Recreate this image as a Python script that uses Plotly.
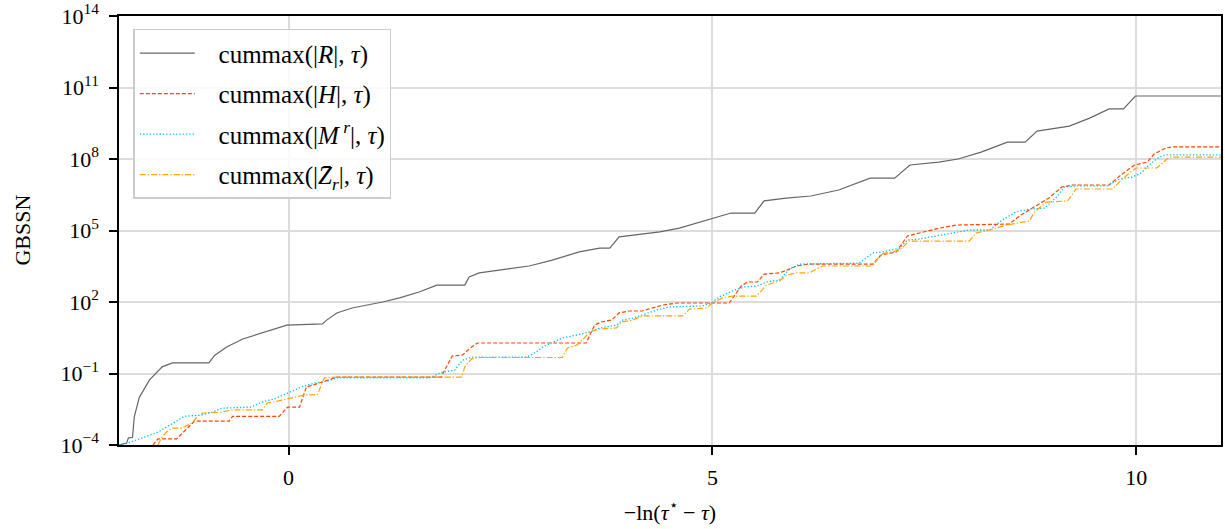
import plotly.graph_objects as go

# ---- data ----
x_R = [-2.0, -1.91, -1.89, -1.84, -1.82, -1.76, -1.64, -1.49, -1.37, -0.94, -0.87, -0.73, -0.54, -0.31, -0.02,
       0.40, 0.45, 0.57, 0.75, 1.11, 1.31, 1.54, 1.75, 2.08, 2.13, 2.25, 2.57, 2.84, 3.11, 3.43, 3.67, 3.79,
       3.90, 4.14, 4.38, 4.61, 5.01, 5.22, 5.50, 5.61, 5.87, 6.16, 6.49, 6.86, 7.15, 7.33, 7.67, 7.90, 8.17,
       8.48, 8.69, 8.83, 9.21, 9.45, 9.68, 9.85, 9.99, 11.0]
y_R = [1.0e-4, 1.2e-4, 1.95e-4, 2.1e-4, 1.5e-3, 1.0e-2, 5.4e-2, 0.19, 0.28, 0.28, 0.59, 1.29, 2.8, 5.0, 10.7,
       12, 17.4, 34.7, 56, 100, 148, 263, 513, 513, 1120, 1660, 2400, 3240, 5750, 1.26e4, 1.82e4, 1.82e4,
       5.4e4, 7.1e4, 8.7e4, 1.26e5, 3.3e5, 5.4e5, 5.4e5, 1.74e6, 2.3e6, 2.8e6, 5.0e6, 1.58e7, 1.58e7, 5.6e7,
       7.4e7, 1.0e8, 1.95e8, 5.1e8, 5.1e8, 1.48e9, 2.4e9, 5.2e9, 1.26e10, 1.26e10, 4.4e10, 4.4e10]

x_H = [-1.60, -1.54, -1.32, -1.11, -0.70, -0.66, -0.11, -0.01, 0.13, 0.21, 0.40, 0.57, 1.80, 1.86, 1.93, 2.05,
       2.16, 2.23, 3.51, 3.61, 3.69, 3.81, 3.90, 4.02, 4.17, 4.41, 4.58, 5.20, 5.34, 5.41, 5.53, 5.61, 5.79,
       5.88, 5.99, 6.14, 6.89, 6.99, 7.17, 7.30, 7.44, 7.68, 7.88, 8.50, 8.64, 8.83, 8.97, 9.12, 9.25, 9.68,
       9.83, 9.98, 10.13, 10.21, 10.35, 10.42, 11.0]
y_H = [1.0e-4, 1.8e-4, 1.8e-4, 1.0e-3, 1.0e-3, 1.6e-3, 1.6e-3, 3.9e-3, 3.9e-3, 2.7e-2, 4.4e-2, 7.1e-2, 7.1e-2,
       0.19, 0.54, 0.59, 1.3, 1.9, 1.9, 10.7, 14.5, 17.4, 35, 42, 42, 74, 91, 91, 470, 690, 690, 1480, 1660,
       2190, 3240, 3900, 3900, 9300, 1.26e4, 5.9e4, 7.8e4, 1.26e5, 1.7e5, 1.86e5, 4.5e5, 1.17e6, 2.3e6,
       6.6e6, 8.1e6, 8.1e6, 2.3e7, 5.6e7, 7.4e7, 1.62e8, 2.9e8, 3.2e8, 3.2e8]

x_M = [-2.0, -1.90, -1.73, -1.54, -1.34, -1.23, -1.03, -0.90, -0.79, -0.44, -0.32, -0.17, -0.01, 0.15, 0.31,
       0.46, 0.57, 1.66, 1.82, 1.96, 2.05, 2.17, 2.81, 2.92, 3.00, 3.11, 3.23, 3.40, 3.55, 3.67, 3.87, 3.94,
       4.06, 4.17, 4.34, 4.49, 4.88, 4.99, 5.08, 5.26, 5.38, 5.53, 5.64, 5.79, 5.91, 6.03, 6.73, 6.89, 7.00,
       7.21, 7.30, 7.44, 7.59, 7.83, 8.03, 8.27, 8.42, 8.58, 8.74, 8.92, 9.06, 9.15, 9.29, 9.66, 9.80, 9.95,
       10.06, 10.15, 10.27, 10.35, 11.0]
y_M = [1.0e-4, 1.2e-4, 1.95e-4, 3.5e-4, 9.1e-4, 1.6e-3, 1.8e-3, 2.4e-3, 3.5e-3, 3.9e-3, 6.3e-3, 8.5e-3,
       1.5e-2, 2.7e-2, 4.0e-2, 4.8e-2, 6.6e-2, 6.6e-2, 0.115, 0.138, 0.36, 0.49, 0.49, 0.79, 1.3, 1.9, 3.1,
       4.1, 5.5, 8.1, 10.7, 17.4, 21, 28, 46, 62, 68, 91, 162, 316, 427, 468, 692, 832, 2400, 3900, 4270,
       1.12e4, 1.26e4, 1.82e4, 4.0e4, 4.4e4, 5.4e4, 7.8e4, 1.05e5, 1.05e5, 2.75e5, 6.0e5, 7.9e5, 8.7e5,
       2.5e6, 6.6e6, 7.4e6, 7.4e6, 1.45e7, 1.74e7, 2.6e7, 5.6e7, 1.2e8, 1.48e8, 1.48e8]

x_Z = [-1.54, -1.50, -1.44, -1.37, -1.26, -1.14, -1.08, -1.01, -0.79, -0.66, -0.31, -0.25, -0.13, -0.01, 0.09,
       0.19, 0.34, 0.42, 0.57, 2.04, 2.08, 2.16, 2.25, 3.23, 3.29, 3.40, 3.49, 3.55, 3.67, 3.87, 3.93, 4.06,
       4.17, 4.65, 4.73, 4.93, 5.00, 5.12, 5.24, 5.52, 5.64, 5.79, 5.88, 5.99, 6.14, 6.30, 6.89, 6.99, 7.21,
       7.32, 8.03, 8.11, 8.27, 8.47, 8.74, 8.80, 8.94, 9.19, 9.29, 9.72, 9.80, 9.92, 10.00, 10.24, 10.39, 11.0]
y_Z = [1.0e-4, 1.95e-4, 3.5e-4, 5.1e-4, 5.1e-4, 8.3e-4, 1.5e-3, 2.2e-3, 2.4e-3, 3.0e-3, 3.0e-3, 5.8e-3,
       6.9e-3, 8.5e-3, 1.0e-2, 1.26e-2, 1.26e-2, 6.5e-2, 7.1e-2, 7.1e-2, 0.19, 0.41, 0.47, 0.47, 1.17, 1.55,
       3.1, 5.5, 7.4, 8.1, 14.5, 17.4, 26, 26, 50, 56, 91, 148, 178, 178, 513, 759, 1350, 1660, 1660, 3240,
       3240, 1.02e4, 1.5e4, 3.6e4, 3.6e4, 7.8e4, 1.05e5, 1.7e5, 2.5e5, 6.0e5, 1.55e6, 1.74e6, 5.5e6, 5.5e6,
       1.07e7, 2.6e7, 4.2e7, 4.2e7, 1.2e8, 1.2e8]

names = [
    "cummax(|<i>R</i>|, <i>τ</i>)",
    "cummax(|<i>H</i>|, <i>τ</i>)",
    "cummax(|<i>M</i><sup> <i>r</i></sup>|, <i>τ</i>)",
    "cummax(|<i>Z̄</i><sub><i>r</i></sub>|, <i>τ</i>)",
]

x_ticks = [0, 5, 10]
y_ticks = [1e-4, 1e-1, 1e2, 1e5, 1e8, 1e11, 1e14]
y_ticktext = ["10<sup>−4</sup>", "10<sup>−1</sup>", "10<sup>2</sup>", "10<sup>5</sup>",
              "10<sup>8</sup>", "10<sup>11</sup>", "10<sup>14</sup>"]

FONT = "Liberation Serif"
PAD = "\u00a0\u00a0\u00a0"

fig = go.Figure()
styles = [
    dict(color="#666666", width=1.2, dash="solid"),
    dict(color="#ff4500", width=1.2, dash="4px,2px"),
    dict(color="#00bfff", width=1.3, dash="1.3px,2px"),
    dict(color="#ffa500", width=1.2, dash="6px,2px,1.3px,2px"),
]
for i, (xs, ys, nm, st) in enumerate(zip([x_R, x_H, x_M, x_Z], [y_R, y_H, y_M, y_Z], names, styles)):
    fig.add_trace(go.Scatter(x=xs, y=ys, mode="lines", name=PAD + nm, line=st, legendgroup=f"g{i}"))

fig.update_layout(
    width=1225, height=529,
    margin=dict(l=119, r=4, t=16, b=84, autoexpand=False),
    paper_bgcolor="white", plot_bgcolor="white",
    font=dict(family=FONT, size=22, color="black"),
    legend=dict(
        x=0.013, y=0.97, xanchor="left", yanchor="top",
        bgcolor="rgba(255,255,255,0.85)", bordercolor="#cccccc", borderwidth=1.5,
        font=dict(family=FONT, size=25),
        tracegroupgap=5, itemwidth=55, traceorder="grouped",
    ),
    showlegend=True,
    annotations=[dict(
        text="GBSSN", xref="paper", yref="paper", x=-0.088, y=0.5,
        xanchor="center", yanchor="middle", textangle=-90, showarrow=False,
        font=dict(family=FONT, size=22, color="black"),
    )],
)
fig.update_xaxes(
    range=[-2, 11], tickvals=x_ticks, ticktext=[str(v) for v in x_ticks],
    showgrid=True, gridcolor="#dcdcdc", gridwidth=1.5,
    showline=True, linecolor="black", linewidth=1.5, mirror=True,
    ticks="outside", ticklen=8, tickwidth=1.5, tickcolor="black",
    zeroline=False, automargin=False, ticklabelstandoff=4,
    title=dict(text="−ln(<i>τ</i><sup>⋆</sup> − <i>τ</i>)", font=dict(family=FONT, size=22)),
)
fig.update_yaxes(
    type="log", range=[-4, 14], tickvals=y_ticks, ticktext=y_ticktext,
    showgrid=True, gridcolor="#dcdcdc", gridwidth=1.5,
    showline=True, linecolor="black", linewidth=1.5, mirror=True,
    ticks="outside", ticklen=8, tickwidth=1.5, tickcolor="black",
    zeroline=False, automargin=False, ticklabelstandoff=6,
)

fig.write_html("out.html", config={"displayModeBar": False})

# remove the browser's default page margin so the figure sits at the window origin
with open("out.html", "r", encoding="utf-8") as f:
    html = f.read()
html = html.replace("<head>", "<head><style>html,body{margin:0;padding:0;overflow:hidden;}</style>", 1)
with open("out.html", "w", encoding="utf-8") as f:
    f.write(html)
